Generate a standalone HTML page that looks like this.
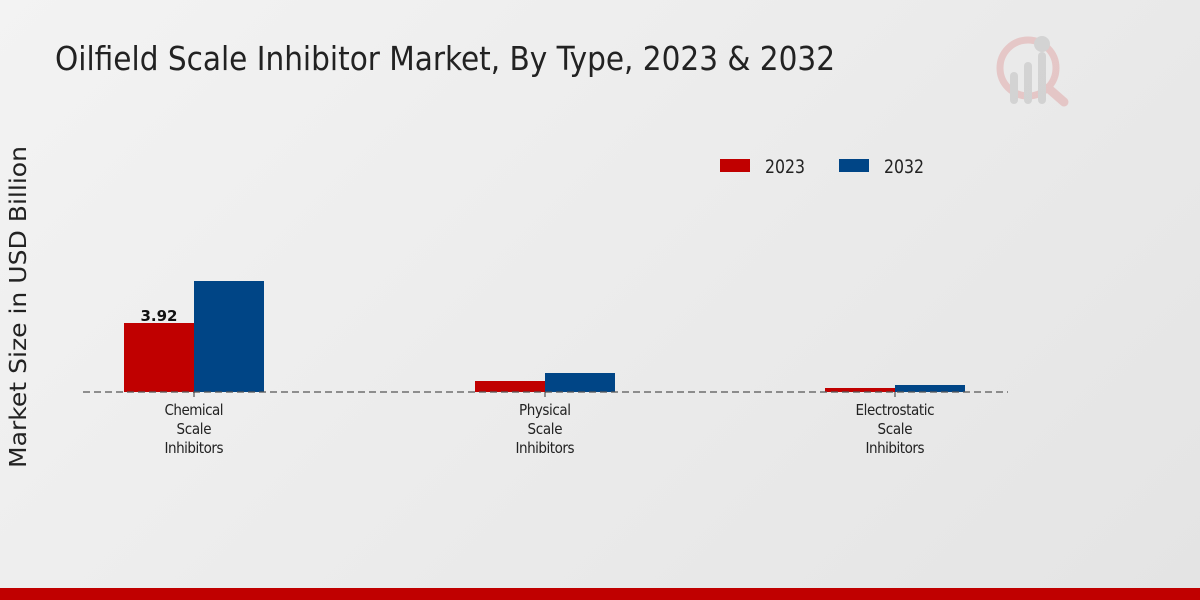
<!DOCTYPE html>
<html><head><style>
body{margin:0;width:1200px;height:600px;overflow:hidden;background:linear-gradient(135deg,#f3f3f3,#e4e4e4);font-family:"DejaVu Sans Condensed","DejaVu Sans","Liberation Sans",sans-serif;}
</style></head><body>
<svg width="1200" height="600" xmlns="http://www.w3.org/2000/svg" style="position:absolute;left:0;top:0">
<text x="55" y="70" font-size="33" fill="#222" font-family="DejaVu Sans Condensed, DejaVu Sans, sans-serif" textLength="780" lengthAdjust="spacingAndGlyphs">Oilfield Scale Inhibitor Market, By Type, 2023 &amp; 2032</text>
<g opacity="0.35">
<circle cx="1028" cy="68" r="28" fill="none" stroke="#d88" stroke-width="7"/>
<line x1="1048" y1="88" x2="1064" y2="102" stroke="#d88" stroke-width="9" stroke-linecap="round"/>
<rect x="1010" y="72" width="8" height="32" rx="4" fill="#aaa"/>
<rect x="1024" y="62" width="8" height="42" rx="4" fill="#aaa"/>
<rect x="1038" y="52" width="8" height="52" rx="4" fill="#aaa"/>
<circle cx="1042" cy="44" r="8" fill="#aaa"/>
</g>
<text transform="translate(26,307) rotate(-90)" text-anchor="middle" font-size="23" fill="#222" font-family="DejaVu Sans, sans-serif" textLength="322" lengthAdjust="spacingAndGlyphs">Market Size in USD Billion</text>
<rect x="720" y="159" width="30" height="13" fill="#c00000"/>
<text x="765" y="173" font-size="19" fill="#222" textLength="40" lengthAdjust="spacingAndGlyphs">2023</text>
<rect x="839" y="159" width="30" height="13" fill="#004586"/>
<text x="884" y="173" font-size="19" fill="#222" textLength="40" lengthAdjust="spacingAndGlyphs">2032</text>
<rect x="124" y="323" width="70" height="69" fill="#c00000"/>
<rect x="194" y="281" width="70" height="111" fill="#004586"/>
<rect x="475" y="381" width="70" height="11" fill="#c00000"/>
<rect x="545" y="373" width="70" height="19" fill="#004586"/>
<rect x="825" y="388" width="70" height="4" fill="#c00000"/>
<rect x="895" y="385" width="70" height="7" fill="#004586"/>
<line x1="83" y1="392" x2="1008" y2="392" stroke="#555" stroke-width="1.2" stroke-dasharray="7,4"/>
<g stroke="#333"><line x1="194" y1="392" x2="194" y2="397"/><line x1="545" y1="392" x2="545" y2="397"/><line x1="895" y1="392" x2="895" y2="397"/></g>
<text x="159" y="321" text-anchor="middle" font-size="15" font-weight="bold" fill="#111" font-family="DejaVu Sans, sans-serif">3.92</text>
<g font-size="15" fill="#222" text-anchor="middle" lengthAdjust="spacingAndGlyphs">
<text x="194" y="415" textLength="59">Chemical</text><text x="194" y="434" textLength="35">Scale</text><text x="194" y="453" textLength="59">Inhibitors</text>
<text x="545" y="415" textLength="52">Physical</text><text x="545" y="434" textLength="35">Scale</text><text x="545" y="453" textLength="59">Inhibitors</text>
<text x="895" y="415" textLength="79">Electrostatic</text><text x="895" y="434" textLength="35">Scale</text><text x="895" y="453" textLength="59">Inhibitors</text>
</g>
<rect x="0" y="588" width="1200" height="12" fill="#c00000"/>
</svg>
</body></html>
